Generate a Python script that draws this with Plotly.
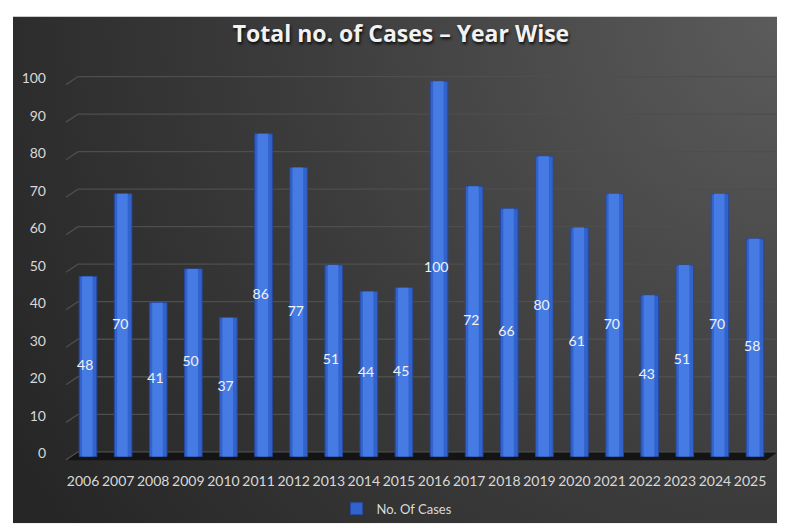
import base64
import plotly.graph_objects as go

# ---- data ----
years = [str(y) for y in range(2006, 2026)]
cases = [48, 70, 41, 50, 37, 86, 77, 51, 44, 45, 100, 72, 66, 80, 61, 70, 43, 51, 70, 58]
y_ticks = [0, 10, 20, 30, 40, 50, 60, 70, 80, 90, 100]
series_name = "No. Of Cases"
title_text = "Total no. of Cases \u2013 Year Wise"

# ---- geometry ----
W, H = 785, 528
ML, MR, MT, MB = 56, 13, 62, 64
PW, PH = W - ML - MR, H - MT - MB
XR = [-0.684, 19.712]
YR = [-1.2, 103]
px_x = (XR[1] - XR[0]) / PW  # data units per px (x)
px_y = (YR[1] - YR[0]) / PH

FONT = "Lato, 'Open Sans', sans-serif"
TFONT = "'Open Sans', Lato, sans-serif"

# background gradient as svg image
svg = ('<svg xmlns="http://www.w3.org/2000/svg" width="780" height="521" viewBox="0 0 780 521" '
       'preserveAspectRatio="none"><defs><radialGradient id="g" gradientUnits="userSpaceOnUse" '
       'cx="780" cy="0" r="900"><stop offset="0" stop-color="#5c5c5c"/>'
       '<stop offset="0.55" stop-color="#3c3c3c"/><stop offset="1" stop-color="#262626"/>'
       '</radialGradient></defs><rect width="780" height="521" fill="url(#g)"/></svg>')
src = "data:image/svg+xml;base64," + base64.b64encode(svg.encode()).decode()

fig = go.Figure()

x_idx = list(range(len(years)))

fig.add_trace(go.Bar(
    x=x_idx, y=cases, name=series_name, width=0.5,
    marker=dict(color="#3263cc", line=dict(color="#26499f", width=1)),
    showlegend=True, hoverinfo="x+y",
))
fig.add_trace(go.Bar(
    x=x_idx, y=cases, width=0.3, offset=-0.17,
    marker=dict(color="#467be3", line=dict(width=0)),
    showlegend=False, hoverinfo="skip",
))
fig.add_trace(go.Scatter(
    x=[i - 0.08 for i in x_idx], y=[v / 2 for v in cases], mode="text",
    text=[str(v) for v in cases], textposition="middle center",
    textfont=dict(family=FONT, size=14, color="#f2f2f2"),
    showlegend=False, hoverinfo="skip",
))

shapes = []
# floor slab
dx = 12 * px_x
back = 1.25
front = -1.0
x_left = XR[0] + 2 * px_x
x_right = XR[1] - 2 * px_x
shapes.append(dict(
    type="path", xref="x", yref="y", layer="below",
    path=f"M {x_left},{front} L {x_left+dx},{back} L {x_right},{back} L {x_right-dx},{front} Z",
    fillcolor="#141414", line=dict(width=0),
))
# gridlines with 3D diagonal stub
for v in y_ticks:
    shapes.append(dict(
        type="path", xref="x", yref="y", layer="below",
        path=f"M {x_left},{v-0.9} L {x_left+dx},{v+back} L {x_right},{v+back}",
        line=dict(color="#4e4e4e", width=1.3),
    ))

fig.update_layout(
    width=W, height=H,
    margin=dict(l=ML, r=MR, t=MT, b=MB),
    paper_bgcolor="white", plot_bgcolor="rgba(0,0,0,0)",
    barmode="overlay",
    title=dict(text=title_text, x=393 / W, xanchor="center",
               y=1 - 26 / H, yanchor="middle",
               font=dict(family=TFONT, size=23, color="#f2f2f2", weight="bold",
                         shadow="1px 2px 3px rgba(0,0,0,0.85)")),
    xaxis=dict(range=XR, tickmode="array", tickvals=x_idx, ticktext=years,
               showgrid=False, zeroline=False, showline=False, ticks="",
               tickfont=dict(family=FONT, size=14, color="#d9d9d9"),
               ticklabelshift=-5, ticklabelstandoff=10, fixedrange=True),
    yaxis=dict(range=YR, tickmode="array", tickvals=y_ticks,
               showgrid=False, zeroline=False, showline=False, ticks="",
               tickfont=dict(family=FONT, size=14, color="#d9d9d9"),
               ticklabelshift=-3, ticklabelstandoff=17, fixedrange=True),
    legend=dict(orientation="h", x=0.5 - 25 / PW, xanchor="center",
                y=(464 - 513) / PH, yanchor="middle",
                font=dict(family=FONT, size=13, color="#d9d9d9"),
                bgcolor="rgba(0,0,0,0)"),
    shapes=shapes,
    images=[dict(source=src, xref="paper", yref="paper",
                 x=(5 - ML) / PW, y=(H - MB - 7) / PH,
                 sizex=780 / PW, sizey=521 / PH,
                 xanchor="left", yanchor="top", sizing="stretch", layer="below")],
)

fig.write_html("out.html")
